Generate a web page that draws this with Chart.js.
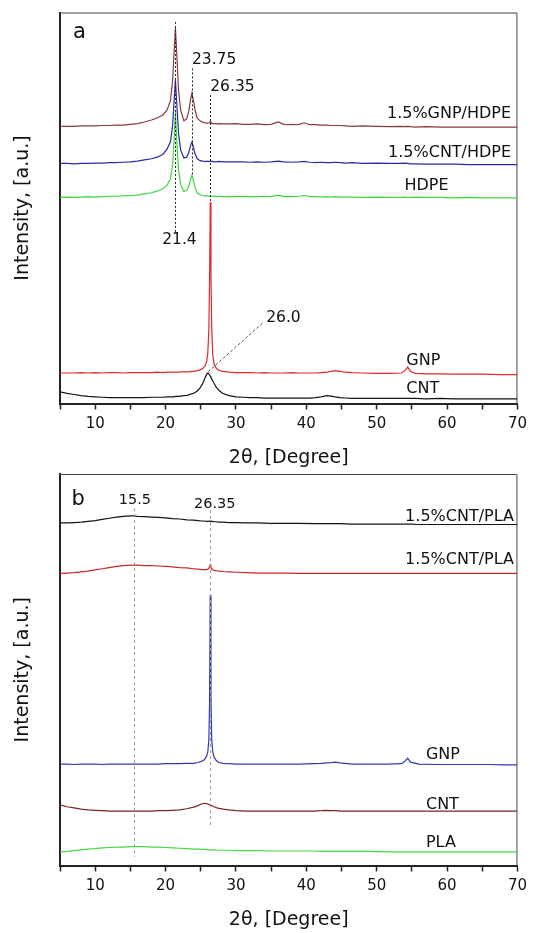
<!DOCTYPE html>
<html>
<head>
<meta charset="utf-8">
<script src="https://cdn.jsdelivr.net/npm/chart.js@4.4.1/dist/chart.umd.min.js"></script>
<style>
  html, body { margin: 0; padding: 0; background: #fff; }
  #wrap { position: relative; width: 533px; height: 933px; }
  .panel { position: absolute; left: 0; width: 533px; }
</style>
</head>
<body>
<div id="wrap">
  <div class="panel" style="top:0;height:468px"><canvas id="hdpeChart" width="533" height="468"></canvas></div>
  <div class="panel" style="top:468px;height:465px"><canvas id="plaChart" width="533" height="465"></canvas></div>
</div>
<script>
// ---------- Panel a: HDPE series (2θ in degrees, intensity in a.u., stacked offsets) ----------
const twoThetaA = [
  5, 6, 7, 8, 9, 10, 11, 12, 13, 14,
  15, 16, 17, 18, 18.8, 19.6, 20.2, 20.7, 21.0, 21.2,
  21.4, 21.6, 21.85, 22.15, 22.6, 23.0, 23.3, 23.55, 23.75, 23.95,
  24.2, 24.5, 24.9, 25.3, 25.6, 25.85, 26.0, 26.15, 26.25, 26.35,
  26.45, 26.55, 26.7, 26.9, 27.2, 27.6, 28.1, 29, 30, 31,
  32, 33, 34, 35, 36, 36.8, 38, 39, 39.7, 40.5,
  41.3, 42.1, 42.9, 43.5, 44.1, 44.8, 45.6, 46.5, 48, 50,
  52, 53.5, 54.0, 54.4, 54.8, 55.5, 57, 59, 61, 63,
  65, 67.5, 70
];
const gnpHdpe = [
  70.9, 70.9, 70.9, 71.0, 71.0, 71.0, 71.1, 71.1, 71.2, 71.2,
  71.4, 71.6, 72.0, 72.5, 73.0, 73.8, 75.0, 77.5, 82.5, 89.5,
  96.0, 89.0, 80.0, 75.0, 72.3, 72.8, 74.8, 77.8, 79.4, 77.5,
  75.0, 73.0, 72.3, 71.9, 71.8, 71.7, 71.7, 71.8, 71.9, 72.1,
  71.8, 71.7, 71.6, 71.6, 71.5, 71.6, 71.5, 71.5, 71.6, 71.4,
  71.4, 71.5, 71.3, 71.4, 72.0, 71.4, 71.3, 71.4, 71.8, 71.3,
  71.3, 71.2, 71.2, 71.1, 71.1, 71.1, 71.0, 70.9, 71.0, 70.9,
  70.8, 70.9, 70.8, 70.9, 70.8, 70.7, 70.8, 70.7, 70.7, 70.7,
  70.7, 70.7, 70.7
];
const cntHdpe = [
  61.4, 61.4, 61.3, 61.4, 61.4, 61.5, 61.5, 61.6, 61.6, 61.7,
  61.8, 62.0, 62.3, 62.6, 63.0, 63.7, 65.0, 67.0, 71.0, 77.0,
  82.7, 76.5, 69.0, 64.8, 62.8, 63.0, 64.2, 65.9, 66.9, 65.6,
  63.8, 62.6, 62.1, 62.0, 61.9, 61.9, 62.0, 61.9, 61.9, 62.0,
  61.9, 61.9, 61.9, 61.8, 61.8, 61.9, 61.8, 61.8, 61.8, 61.8,
  61.7, 61.8, 61.7, 61.8, 62.0, 61.8, 61.7, 61.8, 61.9, 61.7,
  61.6, 61.7, 61.6, 61.6, 61.7, 61.6, 61.5, 61.6, 61.4, 61.5,
  61.4, 61.4, 61.5, 61.4, 61.3, 61.3, 61.2, 61.2, 61.2, 61.1,
  61.1, 61.1, 61.1
];
const hdpe = [
  52.7, 52.8, 52.7, 52.8, 52.9, 52.8, 52.9, 53.0, 53.0, 53.1,
  53.2, 53.3, 53.6, 53.9, 54.3, 54.9, 55.8, 57.5, 61.0, 67.0,
  74.5, 67.0, 59.5, 56.0, 54.2, 54.5, 55.6, 57.3, 58.4, 57.0,
  55.2, 53.9, 53.4, 53.2, 53.1, 53.1, 53.1, 53.0, 53.1, 53.1,
  53.0, 53.0, 53.0, 53.1, 52.9, 53.0, 52.9, 52.9, 52.9, 53.0,
  52.9, 52.9, 53.0, 52.9, 53.3, 52.9, 52.9, 53.0, 53.2, 52.9,
  52.9, 52.8, 52.9, 52.8, 52.9, 52.8, 52.8, 52.8, 52.7, 52.8,
  52.7, 52.7, 52.8, 52.7, 52.7, 52.8, 52.7, 52.7, 52.6, 52.7,
  52.6, 52.6, 52.6
];
const gnpA = [
  7.8, 7.8, 7.8, 7.9, 7.8, 7.9, 7.8, 7.9, 7.9, 7.8,
  7.9, 7.9, 7.9, 7.9, 8.0, 7.9, 8.0, 8.0, 8.0, 8.0,
  8.0, 8.0, 8.0, 8.1, 8.1, 8.1, 8.1, 8.2, 8.2, 8.2,
  8.3, 8.4, 8.6, 9.0, 9.6, 10.8, 12.8, 19.0, 31.0, 51.5,
  33.0, 20.0, 12.5, 10.0, 9.0, 8.5, 8.2, 8.0, 7.9, 7.9,
  7.9, 7.8, 7.9, 7.8, 7.8, 7.8, 7.9, 7.8, 7.8, 7.8,
  7.8, 7.9, 8.0, 8.2, 8.4, 8.2, 8.0, 7.9, 7.8, 7.7,
  7.7, 7.8, 8.4, 9.3, 8.2, 7.7, 7.6, 7.6, 7.5, 7.5,
  7.5, 7.4, 7.4
];
const cntA = [
  3.0, 2.6, 2.3, 2.0, 1.8, 1.7, 1.6, 1.5, 1.5, 1.5,
  1.5, 1.5, 1.5, 1.6, 1.6, 1.6, 1.7, 1.7, 1.7, 1.7,
  1.8, 1.8, 1.8, 1.9, 2.0, 2.1, 2.2, 2.4, 2.5, 2.6,
  2.8, 3.2, 4.0, 5.2, 6.5, 7.5, 7.8, 7.6, 7.3, 7.0,
  6.7, 6.3, 5.8, 5.1, 4.2, 3.3, 2.6, 2.0, 1.7, 1.6,
  1.5, 1.5, 1.4, 1.4, 1.4, 1.4, 1.4, 1.4, 1.4, 1.4,
  1.5, 1.7, 2.0, 1.9, 1.7, 1.5, 1.4, 1.3, 1.3, 1.3,
  1.3, 1.3, 1.3, 1.3, 1.3, 1.3, 1.2, 1.3, 1.2, 1.2,
  1.2, 1.2, 1.2
];
const namesA = ['1.5%GNP/HDPE', '1.5%CNT/HDPE', 'HDPE', 'GNP', 'CNT'];
const peaksA = [21.4, 23.75, 26.35];   // marked reflections
const cntPeakA = 26.0;

// ---------- Panel b: PLA series ----------
const twoThetaB = [
  5, 6, 7, 8, 9, 10, 11, 12, 13, 14,
  15, 15.5, 16, 17, 18, 19, 20, 21, 22, 23,
  24, 24.6, 25.1, 25.5, 25.8, 26.0, 26.15, 26.25, 26.35, 26.45,
  26.55, 26.7, 26.9, 27.2, 27.6, 28.2, 29, 30, 31.5, 33,
  35, 37, 39, 41, 42.2, 42.9, 43.6, 44.1, 44.8, 46.5,
  49, 51.5, 53.5, 54.0, 54.4, 54.8, 56, 58.5, 61, 63.5,
  66, 68, 70
];
const cntPlaUpper = [
  87.5, 87.5, 87.6, 87.7, 87.9, 88.1, 88.4, 88.7, 89.0, 89.2,
  89.3, 89.3, 89.2, 89.1, 89.0, 88.9, 88.8, 88.6, 88.5, 88.3,
  88.2, 88.1, 88.0, 88.0, 87.9, 87.9, 87.9, 88.0, 88.0, 87.9,
  87.9, 87.9, 87.8, 87.8, 87.7, 87.7, 87.6, 87.6, 87.5, 87.5,
  87.4, 87.4, 87.4, 87.3, 87.3, 87.3, 87.3, 87.3, 87.3, 87.2,
  87.2, 87.2, 87.2, 87.2, 87.2, 87.2, 87.1, 87.1, 87.1, 87.1,
  87.1, 87.1, 87.1
];
const cntPlaLower = [
  74.6, 74.7, 74.8, 75.0, 75.2, 75.5, 75.8, 76.1, 76.4, 76.6,
  76.7, 76.7, 76.7, 76.6, 76.6, 76.5, 76.4, 76.3, 76.1, 76.0,
  75.8, 75.7, 75.6, 75.6, 75.6, 75.7, 75.9, 76.3, 76.8, 76.2,
  75.8, 75.6, 75.4, 75.3, 75.2, 75.1, 75.0, 74.9, 74.8, 74.7,
  74.7, 74.7, 74.6, 74.6, 74.6, 74.6, 74.6, 74.6, 74.6, 74.6,
  74.6, 74.6, 74.6, 74.6, 74.6, 74.6, 74.6, 74.6, 74.6, 74.6,
  74.6, 74.6, 74.6
];
const gnpB = [
  25.9, 25.9, 25.8, 25.9, 25.9, 25.9, 25.8, 25.9, 25.9, 25.9,
  25.9, 25.9, 25.9, 25.9, 25.9, 25.9, 26.0, 26.0, 26.0, 26.1,
  26.1, 26.3, 26.6, 27.0, 27.8, 29.0, 32.0, 41.0, 69.1, 43.0,
  32.5, 29.0, 27.6, 26.8, 26.3, 26.1, 26.0, 25.9, 25.9, 25.9,
  25.9, 25.9, 25.9, 26.0, 26.1, 26.2, 26.3, 26.4, 26.2, 25.9,
  25.9, 25.9, 26.0, 26.6, 27.4, 26.4, 25.9, 25.8, 25.8, 25.8,
  25.8, 25.7, 25.7
];
const cntB = [
  15.5, 15.0, 14.7, 14.4, 14.2, 14.1, 14.0, 13.9, 13.9, 13.9,
  13.9, 13.9, 13.9, 13.9, 13.9, 14.0, 14.0, 14.1, 14.2, 14.5,
  14.9, 15.3, 15.7, 15.9, 15.8, 15.7, 15.6, 15.5, 15.5, 15.4,
  15.3, 15.2, 15.0, 14.8, 14.6, 14.4, 14.2, 14.0, 13.9, 13.9,
  13.9, 13.9, 13.9, 13.9, 14.0, 14.1, 14.0, 14.0, 13.9, 13.9,
  13.9, 13.9, 13.9, 13.9, 13.9, 13.9, 13.9, 13.9, 13.9, 13.9,
  13.9, 13.9, 13.9
];
const pla = [
  3.5, 3.6, 3.8, 4.0, 4.2, 4.3, 4.5, 4.6, 4.7, 4.7,
  4.8, 4.8, 4.8, 4.8, 4.7, 4.7, 4.6, 4.5, 4.4, 4.3,
  4.2, 4.2, 4.1, 4.1, 4.1, 4.0, 4.0, 4.0, 4.0, 4.0,
  4.0, 4.0, 4.0, 3.9, 3.9, 3.9, 3.9, 3.8, 3.8, 3.8,
  3.7, 3.7, 3.7, 3.7, 3.6, 3.6, 3.6, 3.6, 3.6, 3.6,
  3.6, 3.5, 3.5, 3.5, 3.5, 3.5, 3.5, 3.5, 3.5, 3.5,
  3.5, 3.5, 3.5
];
const namesB = ['1.5%CNT/PLA', '1.5%CNT/PLA', 'GNP', 'CNT', 'PLA'];
const peaksB = [15.5, 26.35];

// ---------- shared drawing helpers ----------
const FONT = "'DejaVu Sans', sans-serif";
const INK = '#111';

const pairs = (xs, ys) => xs.map((x, i) => ({ x, y: ys[i] }));

function series(label, xs, ys, color) {
  return { label, data: pairs(xs, ys), borderColor: color, borderWidth: 1.2,
           pointRadius: 0, fill: false, tension: 0 };
}

function xAxis(height, titlePad) {
  return {
    type: 'linear', min: 5, max: 70,
    ticks: { stepSize: 5, autoSkip: false, maxRotation: 0, padding: 6, color: INK,
             font: { family: FONT, size: 15 },
             callback: v => (v % 10 === 0 ? String(v) : '') },
    grid: { display: true, drawOnChartArea: false, drawTicks: true, tickLength: 6,
            tickWidth: 1.5, tickColor: '#222' },
    border: { display: true, color: '#222', width: 2 },
    title: { display: true, text: '2θ, [Degree]', color: INK,
             font: { family: FONT, size: 19, lineHeight: 1 },
             padding: { top: 0, bottom: titlePad } },
    afterFit: s => { s.height = height; }
  };
}

function yAxis() {
  return {
    type: 'linear', min: 0, max: 100,
    ticks: { display: false },
    grid: { display: false },
    border: { display: true, color: '#222', width: 2 },
    title: { display: true, text: 'Intensity, [a.u.]', color: INK,
             font: { family: FONT, size: 19, lineHeight: 1 },
             padding: { top: 13.5, bottom: 0 } },
    afterFit: s => { s.width = 60; }
  };
}

// thin top/right frame of the plotting box
const frame = {
  id: 'frame',
  beforeDatasetsDraw(chart) {
    const { ctx, chartArea: a } = chart;
    ctx.save();
    ctx.strokeStyle = '#444';
    ctx.lineWidth = 1;
    ctx.beginPath();
    ctx.moveTo(a.left, a.top + 0.5);
    ctx.lineTo(a.right - 0.5, a.top + 0.5);
    ctx.lineTo(a.right - 0.5, a.bottom);
    ctx.stroke();
    ctx.restore();
  }
};

// peak guides, leader lines and text notes, placed in data units
function notes(cfg) {
  return {
    id: 'notes',
    afterDatasetsDraw(chart) {
      const { ctx, scales: { x, y } } = chart;
      ctx.save();
      cfg.guides.forEach(g => {
        const px = Math.round(x.getPixelForValue(g.x)) + 0.5;
        ctx.beginPath();
        ctx.setLineDash(g.dash);
        ctx.strokeStyle = g.color;
        ctx.lineWidth = 1;
        ctx.moveTo(px, y.getPixelForValue(g.from));
        ctx.lineTo(px, y.getPixelForValue(g.to));
        ctx.stroke();
      });
      (cfg.leaders || []).forEach(l => {
        ctx.beginPath();
        ctx.setLineDash(l.dash);
        ctx.strokeStyle = l.color;
        ctx.lineWidth = 1;
        ctx.moveTo(x.getPixelForValue(l.x1), y.getPixelForValue(l.y1));
        ctx.lineTo(x.getPixelForValue(l.x2), y.getPixelForValue(l.y2));
        ctx.stroke();
      });
      ctx.setLineDash([]);
      ctx.textBaseline = 'middle';
      cfg.texts.forEach(t => {
        ctx.font = t.size + 'px ' + FONT;
        ctx.fillStyle = INK;
        ctx.textAlign = t.align;
        ctx.fillText(t.text, x.getPixelForValue(t.x) + (t.dx || 0), y.getPixelForValue(t.y));
      });
      ctx.restore();
    }
  };
}

function baseOptions(padding, xHeight, titlePad) {
  return {
    responsive: false,
    devicePixelRatio: 1,
    animation: false,
    layout: { padding },
    plugins: { legend: { display: false }, tooltip: { enabled: false } },
    scales: { x: xAxis(xHeight, titlePad), y: yAxis() }
  };
}

// ---------- panel a ----------
const dotA = [2, 2];
new Chart(document.getElementById('hdpeChart'), {
  type: 'line',
  data: {
    datasets: [
      series(namesA[2], twoThetaA, hdpe, '#3fd63f'),
      series(namesA[1], twoThetaA, cntHdpe, '#2b2ba6'),
      series(namesA[0], twoThetaA, gnpHdpe, '#8a3a3a'),
      series(namesA[3], twoThetaA, gnpA, '#e02a2a'),
      series(namesA[4], twoThetaA, cntA, '#151515')
    ]
  },
  options: baseOptions({ top: 12.5, right: 10.5, left: 0, bottom: 0 }, 64.5, 0),
  plugins: [frame, notes({
    guides: [
      { x: peaksA[0], from: 97.6, to: 43.9, dash: dotA, color: '#222' },
      { x: peaksA[1], from: 85.7, to: 58.4, dash: dotA, color: '#222' },
      { x: peaksA[2], from: 78.9, to: 51.5, dash: dotA, color: '#222' }
    ],
    leaders: [
      { x1: cntPeakA + 0.05, y1: 8.1, x2: 33.8, y2: 20.6, dash: [3, 2], color: '#555' }
    ],
    texts: [
      { text: 'a', x: 6.83, y: 94.8, size: 21, align: 'left' },
      { text: String(peaksA[1]), x: peaksA[1], y: 87.9, size: 15.5, align: 'left' },
      { text: String(peaksA[2]), x: peaksA[2], y: 80.9, size: 15.5, align: 'left' },
      { text: String(peaksA[0]), x: peaksA[0], dx: 4, y: 41.8, size: 15.5, align: 'center' },
      { text: cntPeakA.toFixed(1), x: 34.3, y: 21.8, size: 15.5, align: 'left' },
      { text: namesA[0], x: 69.1, y: 74.1, size: 16, align: 'right' },
      { text: namesA[1], x: 69.1, y: 64.2, size: 16, align: 'right' },
      { text: namesA[2], x: 53.95, y: 55.6, size: 16, align: 'left' },
      { text: namesA[3], x: 54.2, y: 10.9, size: 16, align: 'left' },
      { text: namesA[4], x: 54.2, y: 3.7, size: 16, align: 'left' }
    ]
  })]
});

// ---------- panel b ----------
const dashB = [3, 3];
new Chart(document.getElementById('plaChart'), {
  type: 'line',
  data: {
    datasets: [
      series(namesB[0], twoThetaB, cntPlaUpper, '#141414'),
      series(namesB[1], twoThetaB, cntPlaLower, '#c8282d'),
      series(namesB[2], twoThetaB, gnpB, '#3636b0'),
      series(namesB[3], twoThetaB, cntB, '#7a2424'),
      series(namesB[4], twoThetaB, pla, '#44d844')
    ]
  },
  options: baseOptions({ top: 6, right: 10.5, left: 0, bottom: 0 }, 67.5, 3.5),
  plugins: [frame, notes({
    guides: [
      { x: peaksB[0], from: 91.3, to: 2.2, dash: dashB, color: '#9a9a9a' },
      { x: peaksB[1], from: 90.8, to: 9.5, dash: dashB, color: '#9a9a9a' }
    ],
    texts: [
      { text: 'b', x: 6.64, y: 93.6, size: 21, align: 'left' },
      { text: String(peaksB[0]), x: peaksB[0], dx: 1, y: 93.3, size: 14.5, align: 'center' },
      { text: String(peaksB[1]), x: peaksB[1], dx: 4.5, y: 92.3, size: 14.5, align: 'center' },
      { text: namesB[0], x: 69.5, y: 89.1, size: 16, align: 'right' },
      { text: namesB[1], x: 69.5, y: 78.0, size: 16, align: 'right' },
      { text: namesB[2], x: 57.0, y: 28.2, size: 16, align: 'left' },
      { text: namesB[3], x: 57.0, y: 15.5, size: 16, align: 'left' },
      { text: namesB[4], x: 57.0, y: 5.7, size: 16, align: 'left' }
    ]
  })]
});
</script>
</body>
</html>
